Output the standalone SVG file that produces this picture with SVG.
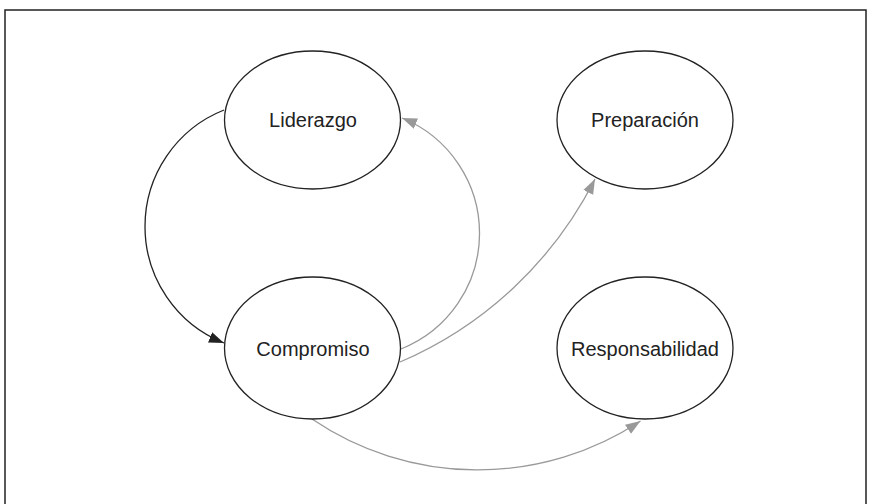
<svg xmlns="http://www.w3.org/2000/svg" width="872" height="504" viewBox="0 0 872 504">
<defs>
<style>
.node ellipse{fill:#fff;stroke:#222;stroke-width:1.3}
.node text{font-family:"Liberation Sans",Arial,sans-serif;font-size:20px;fill:#222;text-anchor:middle}
.edge{fill:none;stroke-width:1.3}
.dark{stroke:#222}
.gray{stroke:#999}
</style>
<marker id="arrDark" markerUnits="userSpaceOnUse" markerWidth="16" markerHeight="12" refX="15" refY="5.5" orient="auto">
<path d="M0,0 L15,5.5 L0,11 z" fill="#222"/>
</marker>
<marker id="arrGray" markerUnits="userSpaceOnUse" markerWidth="16" markerHeight="12" refX="15" refY="5.5" orient="auto">
<path d="M0,0 L15,5.5 L0,11 z" fill="#999"/>
</marker>
</defs>
<rect width="872" height="504" fill="#fff"/>
<path d="M5,504 L5,10 L866,10 L866,504" fill="none" stroke="#222" stroke-width="1.5"/>
<g id="connectors">
<path class="edge dark" d="M224,110 A125.4,125.4 0 0 0 224,343" marker-end="url(#arrDark)"/>
<path class="edge gray" d="M401,349 A124.5,124.5 0 0 0 402,118" marker-end="url(#arrGray)"/>
<path class="edge gray" d="M400,362 A391,391 0 0 0 595,179" marker-end="url(#arrGray)"/>
<path class="edge gray" d="M312,419 A295,295 0 0 0 640.5,421" marker-end="url(#arrGray)"/>
</g>
<g id="node-liderazgo" class="node">
<ellipse cx="312.5" cy="120" rx="88" ry="69"/>
<text x="313" y="127">Liderazgo</text>
</g>
<g id="node-preparacion" class="node">
<ellipse cx="645" cy="120" rx="88" ry="69"/>
<text x="645" y="127">Preparación</text>
</g>
<g id="node-compromiso" class="node">
<ellipse cx="312.5" cy="348" rx="88" ry="71"/>
<text x="313" y="356">Compromiso</text>
</g>
<g id="node-responsabilidad" class="node">
<ellipse cx="645" cy="348" rx="88" ry="71"/>
<text x="645" y="356">Responsabilidad</text>
</g>
</svg>
